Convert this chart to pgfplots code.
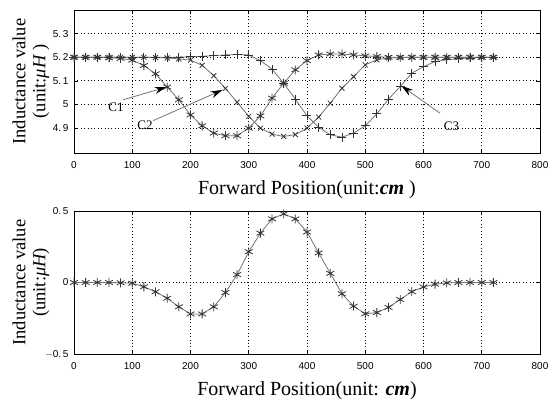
\documentclass[border=0pt]{standalone}
\usepackage{pgfplots}
\pgfplotsset{compat=1.18}
\usepackage{pgfplotstable}
\usepackage{fontspec}
\setmainfont{Liberation Serif}
\newfontfamily\tickfont{Liberation Sans}
\usetikzlibrary{arrows.meta}

\pgfplotstableread{
x c1 c2 c3
0 5.200 5.200 5.200
20 5.200 5.200 5.200
40 5.200 5.200 5.200
60 5.198 5.200 5.200
80 5.195 5.200 5.200
100 5.188 5.200 5.200
120 5.165 5.200 5.200
140 5.130 5.199 5.200
160 5.074 5.197 5.200
180 5.020 5.193 5.200
200 4.956 5.188 5.202
220 4.910 5.166 5.204
240 4.879 5.122 5.207
260 4.868 5.068 5.210
280 4.868 5.010 5.212
300 4.900 4.950 5.210
320 4.952 4.900 5.186
340 5.027 4.875 5.150
360 5.090 4.865 5.090
380 5.147 4.873 5.023
400 5.186 4.900 4.952
420 5.210 4.947 4.904
440 5.214 5.006 4.872
460 5.214 5.069 4.862
480 5.210 5.118 4.879
500 5.206 5.168 4.910
520 5.203 5.189 4.961
540 5.200 5.197 5.023
560 5.200 5.199 5.076
580 5.200 5.200 5.133
600 5.200 5.200 5.160
620 5.200 5.200 5.182
640 5.200 5.200 5.190
660 5.200 5.200 5.194
680 5.200 5.200 5.197
700 5.200 5.200 5.200
720 5.200 5.200 5.200
}\topdata

\pgfplotstableread{
x d
0 0
20 0
40 0
60 0
80 -0.002
100 -0.005
120 -0.030
140 -0.065
160 -0.110
180 -0.170
200 -0.220
220 -0.220
240 -0.170
260 -0.070
280 0.055
300 0.215
320 0.345
340 0.445
360 0.480
380 0.445
400 0.353
420 0.207
440 0.064
460 -0.079
480 -0.166
500 -0.219
520 -0.210
540 -0.174
560 -0.119
580 -0.064
600 -0.031
620 -0.012
640 -0.003
660 0
680 0
700 0
720 0
}\botdata

\pgfplotsset{
  common/.style={
    scale only axis, width=466pt, height=143pt,
    xmin=0, xmax=800, xtick={0,100,...,800},
    grid=major,
    major grid style={black, line width=0.9pt, dash pattern=on 0.9pt off 2.5pt},
    axis line style={black, line width=0.8pt},
    tick style={black, line width=0.8pt},
    tick align=inside, major tick length=4pt,
    xtick pos=both, ytick pos=both,
    ticklabel style={font=\tickfont\fontsize{10}{12}\selectfont},
    /pgf/number format/assume math mode=true,
    xticklabel style={yshift=-5pt},
    yticklabel style={xshift=-2pt},
    every axis x label/.style={at={(axis description cs:0.5,0)}, yshift=-37pt, anchor=center, font=\fontsize{20}{22}\selectfont},
    every axis y label/.style={at={(axis description cs:0,0.5)}, xshift=-43pt, rotate=90, anchor=center, align=center, font=\fontsize{18.5}{20}\selectfont},
  },
  curve/.style={color=black!55, line width=0.8pt, mark options={black!80, line width=0.8pt, solid}},
}

\begin{document}
\begin{tikzpicture}[x=1pt,y=1pt]
\useasboundingbox (0,0) rectangle (552,399);
\begin{axis}[common, at={(74pt,246pt)}, anchor=south west,
  ymin=4.795, ymax=5.4, ytick={4.9,5,5.1,5.2,5.3},
  yticklabels={4.\,9,5,5.\,1,5.\,2,5.\,3},
  xlabel={Forward Position(unit:\textbf{\textit{cm}} )},
  ylabel={Inductance value\\(unit:{\itshape μH} )}]
\addplot[curve, mark=asterisk, mark size=4.5pt] table[x=x,y=c1] {\topdata};
\addplot[curve, mark=x, mark size=3.5pt] table[x=x,y=c2] {\topdata};
\addplot[curve, mark=+, mark size=4.5pt] table[x=x,y=c3] {\topdata};
\draw[black!55, line width=0.8pt, -{Stealth[length=12pt,width=7pt,color=black]}] (axis cs:84,5.02) -- (axis cs:159,5.074);
\draw[black!55, line width=0.8pt, -{Stealth[length=12pt,width=7pt,color=black]}] (axis cs:136,4.932) -- (axis cs:255,5.062);
\draw[black!55, line width=0.8pt, -{Stealth[length=12pt,width=7pt,color=black]}] (axis cs:628,4.964) -- (axis cs:562,5.079);
\node[font=\fontsize{13}{14}\selectfont, inner sep=1pt] at (axis cs:72,4.99) {C1};
\node[font=\fontsize{13}{14}\selectfont, inner sep=1pt] at (axis cs:122,4.914) {C2};
\node[font=\fontsize{13}{14}\selectfont, inner sep=1pt] at (axis cs:648,4.91) {C3};
\end{axis}
\begin{axis}[common, at={(74pt,45pt)}, anchor=south west,
  ymin=-0.5, ymax=0.5, ytick={-0.5,0,0.5},
  yticklabels={$-$0.\,5,0,0.\,5},
  xlabel={Forward Position(unit: \textbf{\textit{cm}})},
  ylabel={Inductance value\\(unit:{\itshape μH})}]
\addplot[curve, mark=asterisk, mark size=4.5pt] table[x=x,y=d] {\botdata};
\end{axis}
\end{tikzpicture}
\end{document}
